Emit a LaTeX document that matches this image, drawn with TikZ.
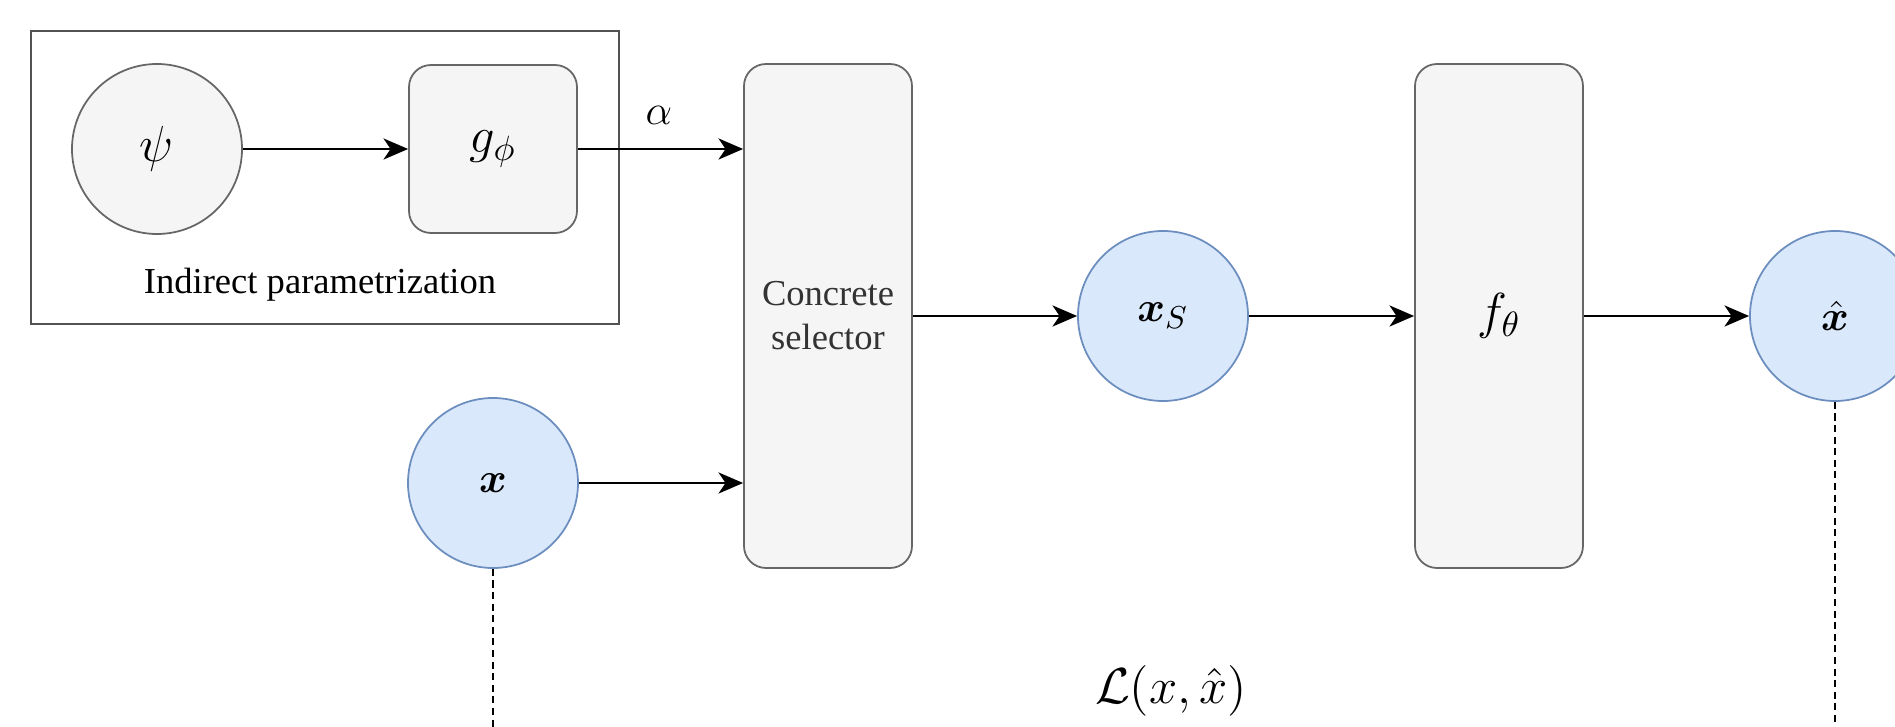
\documentclass[tikz,border=0pt]{standalone}
\usepackage{fontspec}
\setmainfont{Liberation Serif}
\usepackage{bm}
\usetikzlibrary{arrows.meta}
\definecolor{grayfill}{HTML}{F5F5F5}
\definecolor{graydraw}{HTML}{666666}
\definecolor{bluefill}{HTML}{DAE8FC}
\definecolor{bluedraw}{HTML}{6C8EBF}
\begin{document}
\begin{tikzpicture}[>={Stealth[length=7pt,width=6pt,inset=2pt]},
  font=\fontsize{10.4}{12.5}\selectfont,
  var/.style={circle,minimum size=1.70cm,inner sep=0pt,fill=grayfill,draw=graydraw,line width=0.5pt,font=\fontsize{14}{16}\selectfont},
  obs/.style={var,fill=bluefill,draw=bluedraw,font=\fontsize{12.5}{15}\selectfont},
  net/.style={rectangle,rounded corners=0.22cm,fill=grayfill,draw=graydraw,line width=0.5pt,minimum width=1.68cm,inner sep=0pt,font=\fontsize{14}{16}\selectfont},
  flow/.style={->,line width=0.6pt},
  lossline/.style={line width=0.5pt,dash pattern=on 2pt off 1.3pt}]
\useasboundingbox (0,0) rectangle (18.95,7.27);
\draw[line width=0.5pt,draw=graydraw!80!black] (0.31,4.03) rectangle (6.19,6.96);
\node[var] (psi) at (1.57,5.78) {$\psi$};
\node[net,minimum height=1.68cm] (g) at (4.93,5.78) {$g_\phi$};
\node (ip) at (3.20,4.42) {Indirect parametrization};
\node[net,minimum height=5.04cm,text=black!80,font=\fontsize{10.4}{12.5}\selectfont,align=center] (sel) at (8.28,4.11) {Concrete\\selector};
\node[obs] (x) at (4.93,2.44) {$\bm{x}$};
\node[obs] (xs) at (11.63,4.11) {$\bm{x}_S$};
\node[net,minimum height=5.04cm] (f) at (14.99,4.11) {$f_\theta$};
\node[obs] (xhat) at (18.35,4.11) {$\bm{\hat{x}}$};
\node[font=\fontsize{13}{15}\selectfont] (alpha) at (6.59,6.12) {$\alpha$};
\node[font=\fontsize{14}{16}\selectfont] (loss) at (11.71,0.36) {$\mathcal{L}(x,\hat{x})$};
\coordinate (xend) at (4.93,0);
\coordinate (xhatend) at (18.35,0);
\draw[flow] (psi) -- (g);
\draw[flow] (g.east) -- (g.east -| sel.west);
\draw[flow] (x.east) -- (x.east -| sel.west);
\draw[flow] (sel) -- (xs);
\draw[flow] (xs) -- (f);
\draw[flow] (f) -- (xhat);
\draw[lossline] (x.south) -- (xend);
\draw[lossline] (xhat.south) -- (xhatend);
\end{tikzpicture}
\end{document}
